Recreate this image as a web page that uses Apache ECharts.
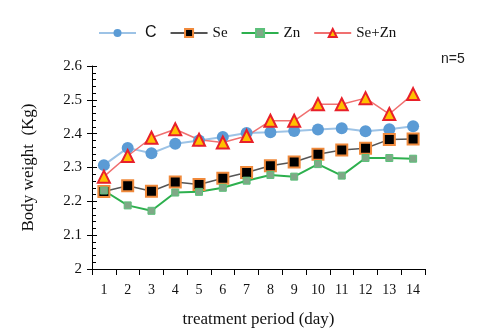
<!DOCTYPE html>
<html>
<head>
<meta charset="utf-8">
<script src="https://cdn.jsdelivr.net/npm/echarts@6/dist/echarts.min.js"></script>
<style>
html,body{margin:0;padding:0;background:#fff;}
#chart{width:500px;height:333px;}
</style>
</head>
<body>
<div id="chart"></div>
<script>
// days of treatment
var days = ['1','2','3','4','5','6','7','8','9','10','11','12','13','14'];
// body weight (Kg) per group
var cData = [2.307, 2.358, 2.342, 2.370, 2.380, 2.390, 2.402, 2.404, 2.408, 2.412, 2.416, 2.407, 2.413, 2.422];
var seData = [2.229, 2.246, 2.230, 2.257, 2.250, 2.268, 2.285, 2.305, 2.316, 2.339, 2.352, 2.357, 2.383, 2.384];
var znData = [2.232, 2.188, 2.172, 2.226, 2.228, 2.240, 2.261, 2.278, 2.273, 2.310, 2.276, 2.328, 2.328, 2.326];
var seZnData = [2.273, 2.334, 2.388, 2.413, 2.382, 2.374, 2.393, 2.438, 2.438, 2.487, 2.487, 2.505, 2.458, 2.517];

var serif = 'Liberation Serif';
var myChart = echarts.init(document.getElementById('chart'));

var option = {
	backgroundColor: '#fff',
	animation: false,
	legend: {
		top: 20,
		left: 93,
		itemWidth: 37,
		itemHeight: 10,
		itemGap: 13,
		formatter: function(name) {
			return name == 'C' ? '{s|C}' : '{t|' + name + '}';
		},
		textStyle: {
			color: '#111',
			rich: {
				s: {fontFamily: 'Liberation Sans', fontSize: 16, color: '#111', padding: [0, 0, 0, 4]},
				t: {fontFamily: serif, fontSize: 15, color: '#111'}
			}
		},
		data: ['C', 'Se', 'Zn', 'Se+Zn']
	},
	graphic: [{
		type: 'text',
		left: 441,
		top: 52,
		style: {text: 'n=5', font: '14px "Liberation Sans"', fill: '#222'}
	}],
	grid: {
		left: 92,
		right: 75,
		top: 66,
		bottom: 64
	},
	xAxis: {
		type: 'category',
		data: days,
		boundaryGap: true,
		name: 'treatment period (day)',
		nameLocation: 'middle',
		nameGap: 42,
		nameTextStyle: {fontFamily: serif, fontSize: 17, color: '#111'},
		axisLine: {lineStyle: {color: '#000', width: 1}},
		axisTick: {show: true, alignWithLabel: false, length: 6, lineStyle: {color: '#000'}},
		axisLabel: {fontFamily: serif, fontSize: 14, color: '#111', margin: 14},
		splitLine: {show: false}
	},
	yAxis: [
		{
			type: 'value',
			min: 2,
			max: 2.6,
			interval: 0.1,
			name: 'Body weight  (Kg)',
			nameLocation: 'middle',
			nameGap: 55,
			nameTextStyle: {fontFamily: serif, fontSize: 17, color: '#111'},
			axisLine: {show: true, lineStyle: {color: '#000'}},
			axisTick: {show: true, length: 5, lineStyle: {color: '#000'}},
			axisLabel: {fontFamily: serif, fontSize: 15, color: '#111', margin: 10,
				formatter: function(v) { return Math.round(v * 10) / 10 + ''; }},
			splitLine: {show: false}
		},
		{
			// inner ticks with the minor marks
			type: 'value',
			min: 2,
			max: 2.6,
			interval: 0.1,
			position: 'left',
			axisLine: {show: false},
			axisTick: {show: true, inside: true, length: 5, lineStyle: {color: '#000'}},
			minorTick: {show: true, splitNumber: 5, length: 4, lineStyle: {color: '#000'}},
			axisLabel: {show: false},
			splitLine: {show: false}
		}
	],
	series: [
		{
			name: 'C',
			type: 'line',
			data: cData,
			symbol: 'circle',
			symbolSize: 12,
			lineStyle: {color: '#9DC3E6', width: 2},
			itemStyle: {color: '#5B9BD5', borderColor: '#5B9BD5', borderWidth: 0}
		},
		{
			name: 'Se',
			type: 'line',
			data: seData,
			symbol: 'rect',
			symbolSize: 11,
			lineStyle: {color: '#555', width: 1.5},
			itemStyle: {color: '#000', borderColor: '#F08A3C', borderWidth: 2}
		},
		{
			name: 'Zn',
			type: 'line',
			data: znData,
			symbol: 'rect',
			symbolSize: 7,
			lineStyle: {color: '#2DB04E', width: 2},
			itemStyle: {color: '#7FA887', borderColor: '#5CC07A', borderWidth: 1}
		},
		{
			name: 'Se+Zn',
			type: 'line',
			data: seZnData,
			symbol: 'triangle',
			symbolSize: 12,
			lineStyle: {color: '#F07070', width: 1.5},
			itemStyle: {color: '#FFC000', borderColor: '#E8202A', borderWidth: 2}
		}
	]
};

myChart.setOption(option);
</script>
</body>
</html>
